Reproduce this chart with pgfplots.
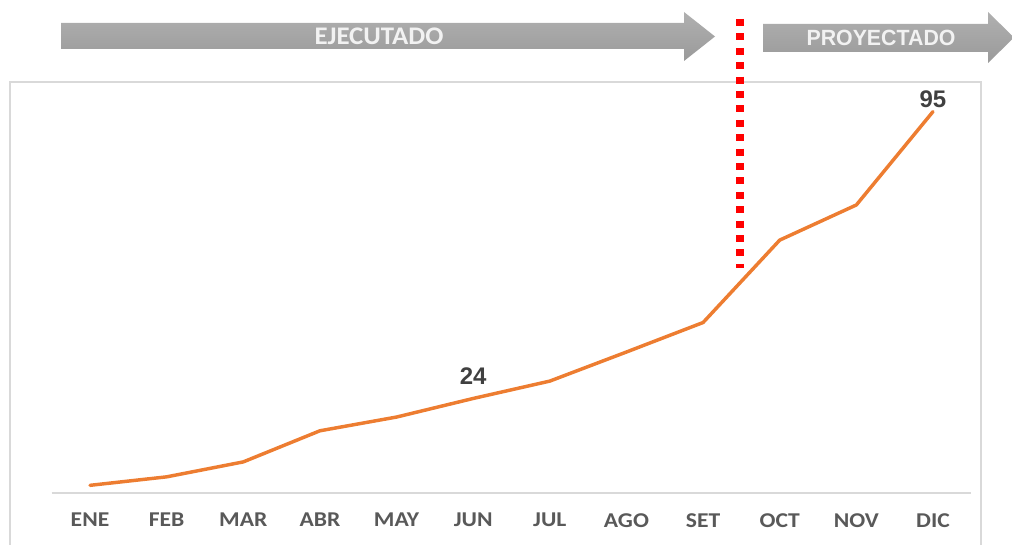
\documentclass[border=0pt]{standalone}
\usepackage{pgfplots}
\pgfplotsset{compat=1.18}
\usepackage{fontspec}
\usepackage{graphicx}
\setmainfont{Carlito}
\newfontfamily\lib{Liberation Sans}
\definecolor{lineorange}{HTML}{ED7D31}
\definecolor{ticktext}{HTML}{595959}
\definecolor{labtext}{HTML}{404040}
\definecolor{bordergray}{HTML}{D9D9D9}
\definecolor{arrtop}{HTML}{B0B0B0}
\definecolor{arrbot}{HTML}{9A9A9A}
\newcommand\tl[1]{\scalebox{1.12}[1]{#1}}
\begin{document}
\begin{tikzpicture}
\useasboundingbox (0,0) rectangle (759pt,-408.75pt);
\begin{scope}[x=0.75pt,y=-0.75pt]
  % chart border
  \draw[bordergray, line width=1pt] (10,560) -- (10,82) -- (981,82) -- (981,560);
  % arrows
  \shade[top color=arrtop, bottom color=arrbot] (61,23) -- (684,23) -- (684,12) -- (715,36.5) -- (684,61) -- (684,49) -- (61,49) -- cycle;
  \node[text=white!95!black, font=\bfseries\fontsize{19}{22}\selectfont, inner sep=0pt] at (379,36) {\scalebox{1.06}[1]{EJECUTADO}};
  \shade[top color=arrtop, bottom color=arrbot] (763,24) -- (988,24) -- (988,12) -- (1014,37.5) -- (988,63) -- (988,52) -- (763,52) -- cycle;
  \node[text=white!95!black, font=\lib\bfseries\fontsize{16.5}{19}\selectfont, inner sep=0pt] at (881,38) {\scalebox{0.97}[1]{PROYECTADO}};
  % red dotted separator
  \draw[red, line width=5.4pt, dash pattern=on 5.25pt off 5.55pt] (740,19) -- (740,268);
\end{scope}
\begin{axis}[
  at={(38.775pt,-369.75pt)}, anchor=south west,
  scale only axis, width=689.7pt, height=303pt,
  xmin=-0.5, xmax=11.5, ymin=0.6, ymax=100.6,
  axis x line*=bottom, axis y line=none,
  x axis line style={bordergray, line width=1pt, -},
  xtick={0,...,11},
  xticklabels={\tl{ENE},\tl{FEB},\tl{MAR},\tl{ABR},\tl{MAY},\tl{JUN},\tl{JUL},\tl{AGO},\tl{SET},\tl{OCT},\tl{NOV},\tl{DIC}},
  major tick length=0pt,
  xticklabel style={font=\bfseries\fontsize{15.8}{18}\selectfont, text=ticktext, inner sep=0pt, anchor=north, yshift=-15pt},
  clip=false,
]
\addplot[lineorange, line width=2.6pt, line join=round, line cap=round] coordinates {
  (0,2.5) (1,4.6) (2,8.3) (3,16.0) (4,19.4) (5,24) (6,28.3) (7,35.5) (8,42.8) (9,63.2) (10,71.9) (11,95)
};
\node[font=\lib\bfseries\fontsize{18}{20}\selectfont, text=labtext, anchor=south, inner sep=0pt, yshift=10.5pt] at (axis cs:5,24) {24};
\node[font=\lib\bfseries\fontsize{18}{20}\selectfont, text=labtext, anchor=south, inner sep=0pt, yshift=3pt] at (axis cs:11,95) {95};
\end{axis}
\end{tikzpicture}
\end{document}
